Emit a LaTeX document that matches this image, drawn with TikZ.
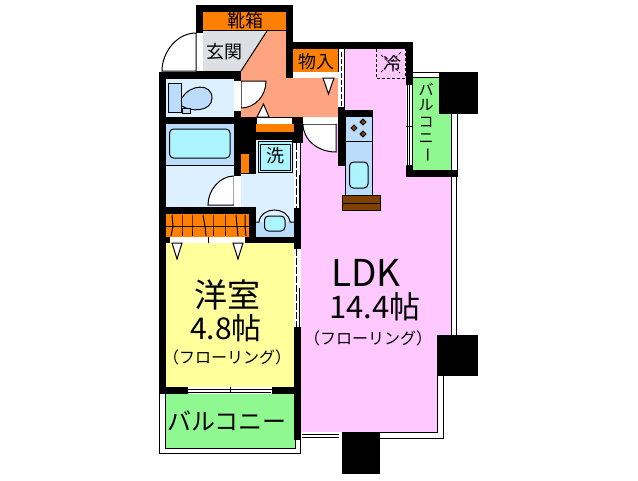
\documentclass[tikz,border=0pt]{standalone}
\usepackage{fontspec}
\setmainfont{Noto Sans CJK JP}
\definecolor{ldkpink}{HTML}{FFC8FF}
\definecolor{roomyellow}{HTML}{FFFF9C}
\definecolor{balcgreen}{HTML}{90F890}
\definecolor{hallsalmon}{HTML}{FFA480}
\definecolor{storeorange}{HTML}{FF8000}
\definecolor{entrygray}{HTML}{DCE0E4}
\definecolor{wetlight}{HTML}{DCF0FF}
\definecolor{wetmid}{HTML}{BCDCFC}
\definecolor{wetcyan}{HTML}{ACF4FF}
\definecolor{woodbrown}{HTML}{804000}
\newcommand{\fs}[1]{\fontsize{#1}{#1}\selectfont}

\begin{document}
\begin{tikzpicture}[x=1pt,y=-1pt,line width=1pt,
  every node/.style={inner sep=0pt, outer sep=0pt},
  doorleaf/.style={fill=white, draw=black},
  outline/.style={draw=black},
  fixture/.style={fill=wetcyan, draw=black, rounded corners=4pt}]
\useasboundingbox (0,0) rectangle (638,480);

\fill[ldkpink] (345,49) -- (406,49) -- (406,177) -- (451,177) -- (451,335) -- (437,335) -- (437,432) -- (301,432) -- (301,124) -- (345,124) -- cycle;
\draw (437,376) -- (437,432) -- (380,432);
\fill[roomyellow] (166,243) rectangle (294,387);
\fill[hallsalmon] (267,31) -- (286,31) -- (286,78) -- (338,78) -- (338,117) -- (241,117) -- (241,71) -- cycle;
\fill[entrygray] (203,31) -- (267,31) -- (241,71) -- (203,71) -- cycle;
\draw (267,31) -- (241,71);
\fill[storeorange] (203,12) rectangle (286,30);
\draw (203,30.5) -- (286,30.5);
\fill[storeorange] (293,49) rectangle (338,72);
\fill[balcgreen] (413,78) rectangle (451,170);
\fill[balcgreen] (165,394) rectangle (295,448);
\draw (165,394) -- (165,448) -- (295,448) -- (295,394);

\fill[wetlight] (166,79) rectangle (234,117);
\fill[wetlight] (166,165) rectangle (234,207);
\fill[wetmid] (166,124) rectangle (234,165);
\draw (166,165) -- (234,165);
\fill[wetlight] (241,174) rectangle (294,207);
\fill[wetlight] (256,132) rectangle (294,210);
\fill[wetmid] (256,222) rectangle (294,237);
\fill[wetlight] (256,207) rectangle (294,222);
\fill[storeorange] (166,214) rectangle (249,237);

\fill (196,5) rectangle (293,12);
\fill (196,5) rectangle (203,33);
\fill (286,5) rectangle (293,78);
\fill (293,42) rectangle (413,49);
\fill (338,42) rectangle (345,49);
\fill (406,42) rectangle (413,85);
\fill (159,72) rectangle (203,79);
\fill (196,71) rectangle (241,79);
\fill (159,72) rectangle (166,394);
\fill (234,72) rectangle (241,81);
\fill (166,117) rectangle (241,124);
\fill (234,111) rectangle (241,176);
\fill (234,117) rectangle (256,174);
\fill (241,117) rectangle (303,124);
\fill (256,132) rectangle (294,140);
\fill (292,117) rectangle (303,143);
\fill (294,124) rectangle (301,440);
\fill (159,207) rectangle (256,214);
\fill (249,207) rectangle (256,243);
\fill (159,237) rectangle (301,243);
\fill (159,387) rectangle (301,394);
\fill (338,107) rectangle (345,166);
\fill (338,110) rectangle (373,116);
\fill (406,165) rectangle (413,177);
\fill (406,170) rectangle (458,177);
\fill (439,72) rectangle (478,114);
\fill (437,335) rectangle (478,376);
\fill (342,432) rectangle (380,474);

\fill[storeorange] (241,154) rectangle (249,173);
\fill[storeorange] (256,124) rectangle (294,132);

\filldraw[doorleaf] (196,71) -- (196,33) .. controls (177,33) and (162,52) .. (162,71) -- cycle;
\fill[white] (197,33) rectangle (203,71);
\filldraw[doorleaf] (241,81) -- (266,81) .. controls (266,96) and (255,108) .. (241,108) -- cycle;
\fill[white] (234,81) rectangle (241,111);
\filldraw[doorleaf] (234,205) -- (234,176) .. controls (220,176) and (208,190) .. (208,205) -- cycle;
\fill[white] (234,176) rectangle (241,206);
\filldraw[doorleaf] (336,124) -- (303,124) .. controls (303,140) and (318,152) .. (336,152) -- cycle;
\fill[white] (303,118) rectangle (336,124);
\fill[white] (257,118) rectangle (292,124);
\fill[white] (295,72) rectangle (338,78);
\fill[white] (170,237) rectangle (245,243);
\draw (208,237) -- (208,243);

\filldraw[doorleaf] (257,117) -- (269,117) -- (263.5,104) -- cycle;
\filldraw[doorleaf] (323,78) -- (334,78) -- (328.5,94) -- cycle;
\filldraw[doorleaf] (172,243) -- (182,243) -- (177,259) -- cycle;
\filldraw[doorleaf] (233,243) -- (243,243) -- (238,259) -- cycle;

\fill[white] (338,49) rectangle (345,107);
\draw (338.5,49) -- (338.5,72);
\draw (344.5,49) -- (344.5,107);
\draw[dash pattern=on 5pt off 2pt] (341.5,52) -- (341.5,107);
\fill[white] (294,143) rectangle (300,208);
\draw[dash pattern=on 7pt off 2pt] (296.5,143) -- (296.5,208);
\draw (299.5,175) -- (299.5,208);
\fill[white] (294,249) rectangle (301,327);
\draw[dash pattern=on 7pt off 2pt] (296.5,249) -- (296.5,327);
\draw (299.5,288) -- (299.5,327);
\fill[white] (406,85) rectangle (413,165);
\draw (407,85) -- (407,165);
\draw (409.5,85) -- (409.5,165);
\draw (412.5,85) -- (412.5,165);
\draw (406,126) -- (413,126);
\fill[white] (188,387) rectangle (272,394);
\draw (188,389) -- (272,389);
\draw (188,392) -- (271,392);
\draw (230,387) -- (230,392);
\fill[white] (302,432) rectangle (342,439);
\draw (302,434) -- (339,434);
\draw (302,437) -- (339,437);

\draw (413,72.5) -- (439,72.5);
\draw (413,77.5) -- (439,77.5);
\draw (451.5,114) -- (451.5,170);
\draw (457.5,114) -- (457.5,170);
\draw (451.5,177) -- (451.5,335);
\draw (456.5,177) -- (456.5,335);
\draw (443,376) -- (443,438) -- (380,438);
\draw (159.5,394) -- (159.5,453) -- (300,453) -- (300,438);

\foreach \xa/\xb/\xc in {172/173/171,182/182/182,192/192/192,203/205/206,213/213/213,225/225/225,236/237/238,245/245/246}
  \draw (\xa,215) -- (\xb,226) -- (\xc,236);
\draw (166,226.5) -- (249,226.5);

\draw[outline, fill=wetmid] (168.5,83.5) rectangle (181.5,112);
\draw[outline, fill=wetmid] (182,98) .. controls (190,84) and (212,83) .. (212,98) .. controls (212,112) and (190,112) .. (182,106);
\draw[outline, fill=wetmid] (182,108) rectangle (190,113);
\draw[fixture] (169.5,129) rectangle (230,158);
\draw (256,222) -- (259,222) .. controls (261,206) and (288,206) .. (290,222) -- (294,222);
\draw[fixture] (264.5,216) rectangle (285,231);
\draw[outline, fill=wetcyan] (258,141.5) rectangle (292,172);
\draw (260,144) rectangle (290,170);

\filldraw[outline, fill=wetmid] (345,116) rectangle (372.5,141.5);
\filldraw[outline, fill=wetmid] (345,141.5) rectangle (372.5,195);
\draw[fixture] (349.5,162) rectangle (368,188);
\filldraw[outline, fill=woodbrown] (342.5,195) rectangle (380,203);
\filldraw[outline, fill=woodbrown] (342.5,203) rectangle (380,210);
\foreach \bx/\by in {363/122,354/128,363/134}
  \filldraw[outline, fill=woodbrown] (\bx,\by-3) -- (\bx+3,\by) -- (\bx,\by+3) -- (\bx-3,\by) -- cycle;

\draw[line width=0.7pt, dash pattern=on 3pt off 2pt] (376,49) -- (376,78) -- (405,78) -- (405,49);
\draw[line width=0.7pt, dash pattern=on 3pt off 2pt] (381,55) -- (400,73);
\draw[line width=0.7pt, dash pattern=on 3pt off 2pt] (381,72) -- (401,52);

\node (shoebox) at (245,21) {\fs{18}靴箱};
\node (entry) at (224,52) {\fs{18}玄関};
\node (storage) at (316,62) {\fs{18}物入};
\node (fridge) at (392,64) {\fs{18}冷};
\node (washer) at (275,156) {\fs{18}洗};
\node (roomname) at (227,295) {\fs{33}洋室};
\node (roomsize) at (226,328) {\fs{30}4.8帖};
\node (roomfloor) at (227,357) {\fs{16}（フローリング）};
\node (ldkname) at (366,273) {\fs{37}LDK};
\node (ldksize) at (375,307) {\fs{31}14.4帖};
\node (ldkfloor) at (368,338) {\fs{16}（フローリング）};
\node (southbalc) at (227,421) {\fs{24}バルコニー};
\node (bal1) at (426,89) {\fs{15}バ};
\node (bal2) at (426,105.5) {\fs{15}ル};
\node (bal3) at (426,122) {\fs{15}コ};
\node (bal4) at (426,138.5) {\fs{15}ニ};
\node[rotate=-90] (bal5) at (426,155) {\fs{15}ー};
\end{tikzpicture}
\end{document}
